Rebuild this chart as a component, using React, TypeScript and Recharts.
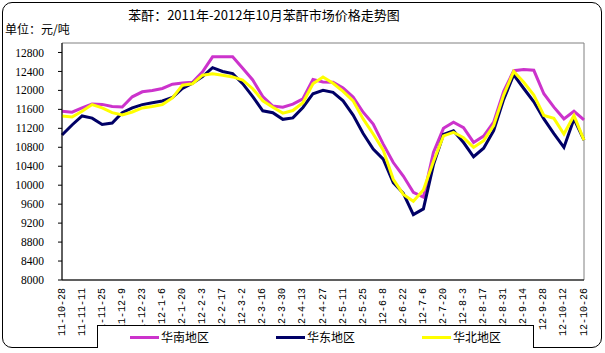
import React from "react";
import { LineChart, Line, XAxis, YAxis, ReferenceArea } from "recharts";

const dates = [
  "11-10-28", "11-11-4", "11-11-11", "11-11-18", "11-11-25", "11-12-2", "11-12-9", "11-12-16", "11-12-23", "11-12-30",
  "12-1-6", "12-1-13", "12-1-20", "12-1-27", "12-2-3", "12-2-10", "12-2-17", "12-2-24", "12-3-2", "12-3-9",
  "12-3-16", "12-3-23", "12-3-30", "12-4-6", "12-4-13", "12-4-20", "12-4-27", "12-5-4", "12-5-11", "12-5-18",
  "12-5-25", "12-6-1", "12-6-8", "12-6-15", "12-6-22", "12-6-29", "12-7-6", "12-7-13", "12-7-20", "12-7-27",
  "12-8-3", "12-8-10", "12-8-17", "12-8-24", "12-8-31", "12-9-7", "12-9-14", "12-9-21", "12-9-28", "12-10-5",
  "12-10-12", "12-10-19", "12-10-26",
];

const southChina = [
  11560, 11540, 11630, 11715, 11705, 11660, 11650, 11865, 11970, 12000,
  12040, 12130, 12155, 12170, 12390, 12708, 12708, 12708, 12465, 12220,
  11870, 11670, 11646, 11710, 11823, 12230, 12178, 12170, 12050, 11860,
  11540, 11292, 10867, 10478, 10194, 9850, 9750, 10690, 11200, 11328,
  11215, 10903, 11035, 11328, 11980, 12415, 12440, 12424, 11930, 11646,
  11400, 11560, 11380,
];

const eastChina = [
  11060, 11270, 11460, 11415, 11280, 11310, 11530, 11630, 11700, 11740,
  11777, 11850, 12040, 12150, 12290, 12480, 12400, 12354, 12142, 11870,
  11570, 11530, 11390, 11420, 11640, 11930, 12000, 11960, 11780, 11480,
  11090, 10761, 10549, 10054, 9830, 9380, 9500, 10430, 11070, 11150,
  10900, 10600, 10780, 11150, 11810, 12330, 12040, 11760, 11398, 11090,
  10797, 11398, 10950,
];

const northChina = [
  11460, 11440, 11560, 11700, 11630, 11530, 11480, 11545, 11630, 11660,
  11700, 11840, 12110, 12140, 12320, 12350, 12320, 12284, 12220, 12036,
  11780, 11646, 11520, 11575, 11740, 12140, 12284, 12150, 11980, 11780,
  11398, 11080, 10740, 10124, 9805, 9663, 9900, 10500, 11040, 11116,
  11000, 10797, 10940, 11256, 11900, 12400, 12170, 11900, 11470, 11410,
  11080, 11469, 10950,
];

const yTicks = [8000, 8400, 8800, 9200, 9600, 10000, 10400, 10800, 11200, 11600, 12000, 12400, 12800];

const seriesNames = ["华南地区", "华东地区", "华北地区"];
const seriesColors = ["#CC33CC", "#000066", "#FFFF00"];

const title = "苯酐：2011年-2012年10月苯酐市场价格走势图";
const unitLabel = "单位：元/吨";

const data = dates.map((d, i) => ({
  date: d,
  south: southChina[i],
  east: eastChina[i],
  north: northChina[i],
}));

const cjk = "'Noto Sans CJK SC', 'Noto Sans CJK JP', 'DejaVu Sans', sans-serif";

const XTick = (props: any) => {
  const { x, y, payload } = props;
  return (
    <text
      x={x}
      y={y}
      transform={`rotate(-90 ${x} ${y})`}
      textAnchor="end"
      dominantBaseline="central"
      fontFamily='"Liberation Mono", monospace'
      fontSize={10}
      fill="#000"
    >
      {payload.value}
    </text>
  );
};

export default function App() {
  return (
    <div style={{ position: "fixed", left: 0, top: 0, width: 605, height: 353, background: "#fff", overflow: "hidden" }}>
      <div
        style={{
          position: "absolute",
          left: 2,
          top: 2,
          width: 598,
          height: 344,
          border: "1px solid #000",
          borderRadius: 10,
        }}
      />
      <div
        style={{
          position: "absolute",
          left: 0,
          top: 6,
          width: 528,
          textAlign: "center",
          fontFamily: cjk,
          fontSize: 13,
          lineHeight: "18px",
          color: "#000",
          whiteSpace: "nowrap",
        }}
      >
        {title}
      </div>
      <div
        style={{
          position: "absolute",
          left: 5,
          top: 21,
          fontFamily: cjk,
          fontSize: 12,
          lineHeight: "16px",
          color: "#000",
          whiteSpace: "nowrap",
        }}
      >
        {unitLabel}
      </div>
      <div style={{ position: "absolute", left: 0, top: 0 }}>
        <LineChart width={605} height={353} data={data} margin={{ top: 43, right: 21, left: 0, bottom: 0 }}>
          <ReferenceArea
            x1={dates[0]}
            x2={dates[dates.length - 1]}
            y1={8000}
            y2={13000}
            fill="none"
            fillOpacity={0}
            stroke="#808080"
            strokeWidth={1}
            ifOverflow="visible"
          />
          <XAxis
            dataKey="date"
            interval={1}
            height={73}
            tickSize={4}
            tickMargin={4}
            tickLine={false}
            axisLine={{ stroke: "#000" }}
            tick={<XTick />}
          />
          <YAxis
            width={62}
            domain={[8000, 13000]}
            ticks={yTicks}
            allowDataOverflow
            tickSize={4}
            tickMargin={14}
            axisLine={{ stroke: "#000" }}
            tickLine={{ stroke: "#000" }}
            tick={{ fontFamily: '"Liberation Serif", serif', fontSize: 11.5, fill: "#000" }}
          />
          <Line type="linear" dataKey="south" name={seriesNames[0]} stroke={seriesColors[0]} strokeWidth={3} dot={false} isAnimationActive={false} />
          <Line type="linear" dataKey="east" name={seriesNames[1]} stroke={seriesColors[1]} strokeWidth={3} dot={false} isAnimationActive={false} />
          <Line type="linear" dataKey="north" name={seriesNames[2]} stroke={seriesColors[2]} strokeWidth={3} dot={false} isAnimationActive={false} />
        </LineChart>
      </div>
      <div
        style={{
          position: "absolute",
          left: 97,
          top: 325,
          width: 435,
          height: 22,
          border: "1px solid #000",
          borderBottom: "none",
          background: "#fff",
        }}
      >
        {seriesNames.map((name, i) => (
          <div
            key={name}
            style={{
              position: "absolute",
              left: 32 + i * 146,
              top: 3,
              display: "flex",
              alignItems: "center",
              height: 16,
            }}
          >
            <div style={{ width: 29, height: 3, background: seriesColors[i], marginRight: 2 }} />
            <span style={{ fontFamily: cjk, fontSize: 12, lineHeight: "16px", color: "#000", whiteSpace: "nowrap" }}>{name}</span>
          </div>
        ))}
      </div>
    </div>
  );
}
